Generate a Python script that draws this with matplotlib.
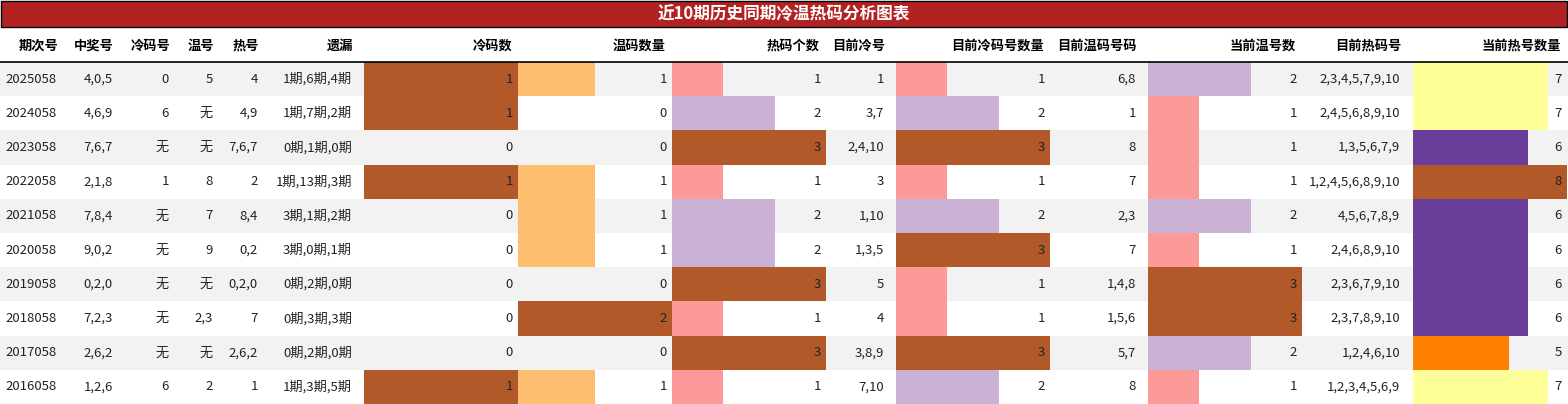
import matplotlib
matplotlib.use("Agg")
import matplotlib.pyplot as plt
from matplotlib.patches import Rectangle

plt.rcParams['font.family'] = ['Noto Sans CJK SC', 'DejaVu Sans']

title = "近10期历史同期冷温热码分析图表"
headers = ["期次号", "中奖号", "冷码号", "温号", "热号", "遗漏", "冷码数", "温码数量", "热码个数",
           "目前冷号", "目前冷码号数量", "目前温码号码", "当前温号数", "目前热码号", "当前热号数量"]
periods = ["2025058", "2024058", "2023058", "2022058", "2021058", "2020058", "2019058", "2018058", "2017058", "2016058"]
winning = ["4,0,5", "4,6,9", "7,6,7", "2,1,8", "7,8,4", "9,0,2", "0,2,0", "7,2,3", "2,6,2", "1,2,6"]
cold_nums = ["0", "6", "无", "1", "无", "无", "无", "无", "无", "6"]
warm_nums = ["5", "无", "无", "8", "7", "9", "无", "2,3", "无", "2"]
hot_nums = ["4", "4,9", "7,6,7", "2", "8,4", "0,2", "0,2,0", "7", "2,6,2", "1"]
missing = ["1期,6期,4期", "1期,7期,2期", "0期,1期,0期", "1期,13期,3期", "3期,1期,2期",
           "3期,0期,1期", "0期,2期,0期", "0期,3期,3期", "0期,2期,0期", "1期,3期,5期"]
cold_count = [1, 1, 0, 1, 0, 0, 0, 0, 0, 1]
warm_count = [1, 0, 0, 1, 1, 1, 0, 2, 0, 1]
hot_count = [1, 2, 3, 1, 2, 2, 3, 1, 3, 1]
cur_cold = ["1", "3,7", "2,4,10", "3", "1,10", "1,3,5", "5", "4", "3,8,9", "7,10"]
cur_cold_count = [1, 2, 3, 1, 2, 3, 1, 1, 3, 2]
cur_warm = ["6,8", "1", "8", "7", "2,3", "7", "1,4,8", "1,5,6", "5,7", "8"]
cur_warm_count = [2, 1, 1, 1, 2, 1, 3, 3, 2, 1]
cur_hot = ["2,3,4,5,7,9,10", "2,4,5,6,8,9,10", "1,3,5,6,7,9", "1,2,4,5,6,8,9,10", "4,5,6,7,8,9",
           "2,4,6,8,9,10", "2,3,6,7,9,10", "2,3,7,8,9,10", "1,2,4,6,10", "1,2,3,4,5,6,9"]
cur_hot_count = [7, 7, 6, 8, 6, 6, 6, 6, 5, 7]

W, H = 1568, 404
fig = plt.figure(figsize=(W / 100, H / 100), dpi=100)
ax = fig.add_axes([0, 0, 1, 1])
ax.set_xlim(0, W)
ax.set_ylim(H, 0)
ax.axis("off")

# title bar
ax.add_patch(Rectangle((0.5, 0.5), W - 1, 26, facecolor="#B22222", edgecolor="black", lw=1))
ax.text(W / 2, 14, title, color="white", ha="center", va="center", fontsize=12, fontweight="bold")

top = 62
rh = 34.2
# column spec: (kind, left, right, data)
cols = [
    ("t", 0, 64, periods), ("t", 64, 120, winning), ("t", 120, 176, cold_nums), ("t", 176, 220, warm_nums),
    ("t", 220, 265, hot_nums), ("t", 265, 359, missing),
    ("b", 364, 518, cold_count), ("b", 518, 672, warm_count), ("b", 672, 826, hot_count),
    ("t", 826, 891, cur_cold), ("b", 896, 1050, cur_cold_count), ("t", 1050, 1143, cur_warm),
    ("b", 1148, 1302, cur_warm_count), ("t", 1302, 1407, cur_hot), ("b", 1413, 1567, cur_hot_count),
]

def color_for(frac):
    table = [(1.0, "#B15928"), (7 / 8, "#FFFF99"), (6 / 8, "#6A3D9A"), (2 / 3, "#CAB2D6"),
             (5 / 8, "#FF7F00"), (0.5, "#FDBF6F"), (1 / 3, "#FB9A99")]
    return min(table, key=lambda t: abs(t[0] - frac))[1]

for i in range(10):
    y0 = top + i * rh
    if i % 2 == 0:
        ax.add_patch(Rectangle((0, y0), W, rh, facecolor="#F2F2F2", edgecolor="none", zorder=0))

for kind, l, r, data in cols:
    if kind == "b":
        mx = max(data)
        ys = [top + i * rh + rh / 2 for i in range(10)]
        widths = [(v / mx) * (r - l) for v in data]
        ax.barh(ys, widths, height=rh, left=l,
                color=[color_for(v / mx) for v in data], zorder=1)
        for y, v in zip(ys, data):
            ax.text(r - 5, y, str(v), ha="right", va="center", fontsize=9.5, color="#222222", zorder=2)
    else:
        for i, v in enumerate(data):
            ax.text(r - 7, top + i * rh + rh / 2, v, ha="right", va="center", fontsize=9.5,
                    color="#222222", zorder=2)

for (kind, l, r, data), h in zip(cols, headers):
    ax.text(r - 6, 46, h, ha="right", va="center", fontsize=9.5, fontweight="bold", color="black")

ax.plot([0, W], [top, top], color="black", lw=1.2)

fig.savefig("out.png", dpi=100)
